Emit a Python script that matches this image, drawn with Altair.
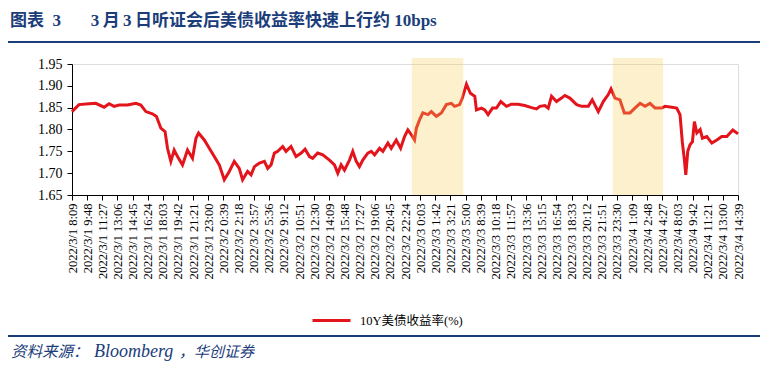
import altair as alt
import pandas as pd

# ---- data ----
tick_labels = [
    "2022/3/1 8:09", "2022/3/1 9:48", "2022/3/1 11:27", "2022/3/1 13:06", "2022/3/1 14:45",
    "2022/3/1 16:24", "2022/3/1 18:03", "2022/3/1 19:42", "2022/3/1 21:21", "2022/3/1 23:00",
    "2022/3/2 0:39", "2022/3/2 2:18", "2022/3/2 3:57", "2022/3/2 5:36", "2022/3/2 9:12",
    "2022/3/2 10:51", "2022/3/2 12:30", "2022/3/2 14:09", "2022/3/2 15:48", "2022/3/2 17:27",
    "2022/3/2 19:06", "2022/3/2 20:45", "2022/3/2 22:24", "2022/3/3 0:03", "2022/3/3 1:42",
    "2022/3/3 3:21", "2022/3/3 5:00", "2022/3/3 8:39", "2022/3/3 10:18", "2022/3/3 11:57",
    "2022/3/3 13:36", "2022/3/3 15:15", "2022/3/3 16:54", "2022/3/3 18:33", "2022/3/3 20:12",
    "2022/3/3 21:51", "2022/3/3 23:30", "2022/3/4 1:09", "2022/3/4 2:48", "2022/3/4 4:27",
    "2022/3/4 8:03", "2022/3/4 9:42", "2022/3/4 11:21", "2022/3/4 13:00", "2022/3/4 14:39",
]

# position along the axis, in tick-label steps
pos = [
    0.00, 0.46, 1.13, 1.57, 2.12, 2.45, 2.78, 3.11, 3.66, 4.22, 4.55, 4.88, 5.31, 5.58, 5.87,
    6.15, 6.31, 6.53, 6.75, 6.97, 7.30, 7.63, 7.96, 8.19, 8.36, 8.74, 9.07, 9.40, 9.73, 10.06,
    10.39, 10.72, 11.05, 11.27, 11.60, 11.83, 12.05, 12.38, 12.71, 12.93, 13.15, 13.37, 13.59,
    13.92, 14.14, 14.47, 14.80, 15.14, 15.40, 15.69, 15.90, 16.23, 16.57, 17.01, 17.34, 17.56,
    17.78, 18.00, 18.33, 18.55, 18.78, 18.99, 19.21, 19.54, 19.77, 19.99, 20.32, 20.54, 20.87,
    21.09, 21.42, 21.71, 21.97, 22.19, 22.42, 22.63, 22.75, 22.96, 23.18, 23.52, 23.74, 24.07,
    24.40, 24.73, 25.06, 25.28, 25.61, 25.79, 26.06, 26.32, 26.61, 26.72, 27.05, 27.27, 27.49,
    27.78, 28.04, 28.33, 28.70, 29.03, 29.47, 29.91, 30.36, 30.69, 30.91, 31.24, 31.46, 31.68,
    32.01, 32.34, 32.56, 32.89, 33.34, 33.67, 34.11, 34.37, 34.77, 35.10, 35.43, 35.61, 35.87,
    36.20, 36.49, 36.86, 37.19, 37.53, 37.86, 38.19, 38.52, 38.96, 39.18, 39.62, 39.95, 40.17,
    40.32, 40.46, 40.55, 40.68, 40.83, 40.99, 41.12, 41.28, 41.50, 41.65, 41.94, 42.27, 42.60,
    42.93, 43.26, 43.66, 44.00,
]
yield_10y = [
    1.841, 1.857, 1.859, 1.860, 1.851, 1.859, 1.853, 1.856, 1.856, 1.860, 1.856, 1.841, 1.836, 1.830, 1.803,
    1.795, 1.757, 1.727, 1.753, 1.738, 1.719, 1.753, 1.734, 1.780, 1.792, 1.776, 1.757, 1.738, 1.719, 1.685,
    1.704, 1.727, 1.711, 1.685, 1.704, 1.696, 1.715, 1.723, 1.727, 1.711, 1.719, 1.746, 1.750,
    1.761, 1.750, 1.761, 1.738, 1.746, 1.755, 1.738, 1.734, 1.746, 1.742, 1.730, 1.719, 1.700,
    1.719, 1.707, 1.730, 1.750, 1.727, 1.715, 1.730, 1.746, 1.750, 1.742, 1.757, 1.750, 1.769,
    1.757, 1.776, 1.757, 1.784, 1.799, 1.788, 1.776, 1.803, 1.822, 1.838, 1.834, 1.841, 1.830,
    1.838, 1.857, 1.860, 1.853, 1.857, 1.872, 1.904, 1.883, 1.876, 1.845, 1.849, 1.845, 1.834,
    1.849, 1.849, 1.864, 1.853, 1.858, 1.858, 1.855, 1.850, 1.847, 1.853, 1.855, 1.849, 1.876,
    1.864, 1.872, 1.878, 1.872, 1.857, 1.853, 1.853, 1.868, 1.841, 1.864, 1.880, 1.893, 1.872,
    1.868, 1.838, 1.838, 1.849, 1.860, 1.853, 1.860, 1.849, 1.849, 1.853, 1.851, 1.849, 1.834,
    1.772, 1.730, 1.696, 1.750, 1.765, 1.772, 1.818, 1.792, 1.800, 1.780, 1.784, 1.769, 1.776,
    1.784, 1.784, 1.799, 1.790,
]
series_name = "10Y美债收益率(%)"
y_ticks = [1.65, 1.70, 1.75, 1.80, 1.85, 1.90, 1.95]

# highlighted windows (hearing periods), in tick-label steps
band_start = [22.45, 35.73]
band_end = [25.85, 39.05]
band_low = [1.65, 1.65]
band_high = [1.964, 1.964]

NB = "\u00a0"
TS = "\u2009"
title_text = ("图表" + NB * 2 + "3" + NB * 7 + "3" + TS + "月" + TS + "3" + TS
              + "日听证会后美债收益率快速上行约" + NB + "10bps")
source_parts = ["资料来源：", "Bloomberg", "，华创证券"]

# ---- styling ----
NAVY = "#1B3D7A"
RED = "#E3141B"
SERIF = "Liberation Serif, Noto Sans CJK SC"

line_df = pd.DataFrame({"pos": pos, "value": yield_10y, "series": series_name})
band_df = pd.DataFrame({"start": band_start, "end": band_end, "lo": band_low, "hi": band_high})

label_array = "[" + ",".join("'" + s + "'" for s in tick_labels) + "]"

x_scale = alt.Scale(domain=[0, len(tick_labels) - 1], nice=False, zero=False)
y_scale = alt.Scale(domain=[1.65, 1.95], nice=False, zero=False)

x_axis = alt.Axis(
    values=list(range(len(tick_labels))),
    labelExpr=label_array + "[datum.value]",
    labelAngle=270, labelAlign="right", labelBaseline="middle",
    labelFont=SERIF, labelFontSize=12.5, labelColor="black",
    labelPadding=3, labelFlush=False, labelOverlap=False, labelBound=False,
    tickSize=5, tickColor="black", domainColor="black", grid=False, title=None,
)
y_axis = alt.Axis(
    values=y_ticks, format=".2f",
    labelFont=SERIF, labelFontSize=14, labelColor="black", labelPadding=5,
    labelOverlap=False, labelFlush=False,
    tickSize=5, tickColor="black", domainColor="black", grid=False, title=None,
)

line = alt.Chart(line_df).mark_line(strokeWidth=3, clip=False).encode(
    x=alt.X("pos:Q", scale=x_scale, axis=x_axis),
    y=alt.Y("value:Q", scale=y_scale, axis=y_axis),
    color=alt.Color(
        "series:N",
        scale=alt.Scale(range=[RED]),
        legend=alt.Legend(
            title=None, orient="none", legendX=239, legendY=236,
            symbolType="stroke", symbolSize=1444, symbolStrokeWidth=3,
            labelFont=SERIF, labelFontSize=12.5, labelColor="black", labelOffset=8,
        ),
    ),
)

bands = alt.Chart(band_df).mark_rect(color="#F8CD58", opacity=0.3).encode(
    x=alt.X("start:Q", scale=x_scale, axis=x_axis),
    x2="end:Q",
    y=alt.Y("lo:Q", scale=y_scale, axis=y_axis),
    y2="hi:Q",
)

one = alt.Data(values=[{"k": 1}])

title = alt.Chart(one).mark_text(
    text=title_text, align="left", baseline="middle", font=SERIF,
    fontSize=17, fontWeight="bold", color=NAVY,
).encode(x=alt.value(-62), y=alt.value(-43))

top_rule = alt.Chart(one).mark_rule(color=NAVY, strokeWidth=2.2).encode(
    x=alt.value(-64), x2=alt.value(688), y=alt.value(-22)
)
bottom_rule = alt.Chart(one).mark_rule(color=NAVY, strokeWidth=2.2).encode(
    x=alt.value(-64), x2=alt.value(688), y=alt.value(272)
)
src1 = alt.Chart(one).mark_text(
    text=source_parts[0], align="left", baseline="alphabetic", font=SERIF,
    fontSize=15.5, fontStyle="italic", color=NAVY,
).encode(x=alt.value(-61), y=alt.value(293))
src2 = alt.Chart(one).mark_text(
    text=source_parts[1], align="left", baseline="alphabetic", font=SERIF,
    fontSize=18, fontStyle="italic", color=NAVY,
).encode(x=alt.value(22), y=alt.value(293))
src3 = alt.Chart(one).mark_text(
    text=source_parts[2], align="left", baseline="alphabetic", font=SERIF,
    fontSize=15, fontStyle="italic", color=NAVY,
).encode(x=alt.value(107), y=alt.value(293))

chart = alt.layer(line, bands, title, top_rule, bottom_rule, src1, src2, src3).properties(
    width=666, height=131,
    autosize=alt.AutoSizeParams(type="none"),
    padding={"left": 64, "top": 56, "right": 24, "bottom": 166},
).configure_view(stroke=None).configure(background="white")

chart.save("out.html", embed_options={"renderer": "svg", "actions": False})
